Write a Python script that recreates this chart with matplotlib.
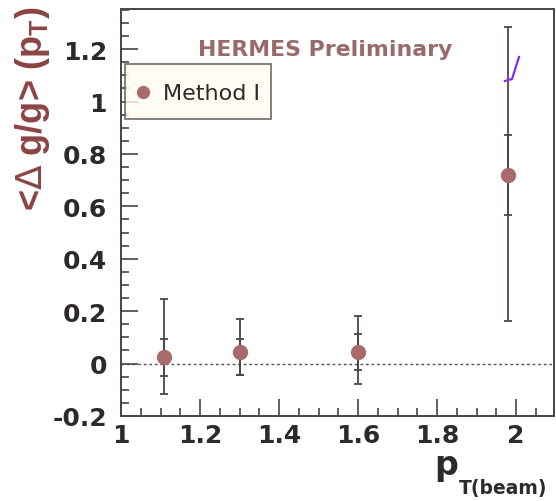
import matplotlib
matplotlib.use("Agg")
from matplotlib import pyplot as plt
from matplotlib.lines import Line2D
from matplotlib.ticker import MultipleLocator
import numpy as np

pt_beam = [1.11, 1.30, 1.60, 1.98]
dg_over_g = [0.025, 0.045, 0.045, 0.72]
stat_lo = [0.073, 0.09, 0.068, 0.154]
stat_hi = [0.068, 0.048, 0.067, 0.151]
tot_lo = [0.14, 0.09, 0.123, 0.559]
tot_hi = [0.22, 0.127, 0.135, 0.566]

x_ticks = [1, 1.2, 1.4, 1.6, 1.8, 2]
y_ticks = [-0.2, 0, 0.2, 0.4, 0.6, 0.8, 1, 1.2]

plt.rcParams['font.family'] = ['DejaVu Sans']

W, H = 556, 502
fig = plt.figure(figsize=(W / 100, H / 100), dpi=100)
ax = fig.add_axes([121 / W, 1 - 417 / H, 433 / W, 407 / H])

frame_col = '#4a4444'
bar_col = '#4d4646'
dot_col = '#a86a6a'
brown = '#8c4444'
txt_col = '#2e2a2a'

ax.axhline(0, color='#555050', lw=1.0, ls=(0, (2, 2)), zorder=1)

# total (outer) and statistical (inner) error bars
ax.errorbar(pt_beam, dg_over_g, yerr=[tot_lo, tot_hi], fmt='none',
            ecolor=bar_col, elinewidth=1.3, capsize=3, capthick=1.3, zorder=2)
ax.errorbar(pt_beam, dg_over_g, yerr=[stat_lo, stat_hi], fmt='none',
            ecolor=bar_col, elinewidth=1.3, capsize=3, capthick=1.3, zorder=2)
ax.plot(pt_beam, dg_over_g, 'o', color=dot_col, ms=10, mec=dot_col,
        zorder=3, label='Method I')

ax.set_xlim(1, 2.096)
ax.set_ylim(-0.2, 1.353)
ax.set_xticks(x_ticks)
ax.set_xticklabels(['1', '1.2', '1.4', '1.6', '1.8', '2'])
ax.set_yticks(y_ticks)
ax.set_yticklabels(['-0.2', '0', '0.2', '0.4', '0.6', '0.8', '1', '1.2'])
ax.xaxis.set_minor_locator(MultipleLocator(0.05))
ax.yaxis.set_minor_locator(MultipleLocator(0.05))
ax.tick_params(which='both', direction='in', color=frame_col, width=1.2,
               top=False, right=False)
ax.tick_params(which='major', length=12, labelsize=18)
ax.tick_params(which='minor', length=6)
ax.tick_params(axis='x', which='major', pad=5)
ax.tick_params(axis='y', which='major', pad=10)
for s in ax.spines.values():
    s.set_color(frame_col)
    s.set_linewidth(1.4)
for lab in ax.get_xticklabels() + ax.get_yticklabels():
    lab.set_color(txt_col)
    lab.set_fontweight('bold')

ax.text(0.472, 0.902, 'HERMES Preliminary', transform=ax.transAxes,
        ha='center', va='center', fontsize=15.8, fontweight='bold',
        color='#9a6a6a')

leg = ax.legend(loc='upper left', bbox_to_anchor=(0.009, 0.865),
                frameon=True, fancybox=False, fontsize=16, handlelength=0.6,
                handletextpad=0.6, borderpad=0.5, handleheight=1.9,
                borderaxespad=0, markerscale=0.85)
leg.get_frame().set_edgecolor(frame_col)
leg.get_frame().set_linewidth(1.2)
leg.get_frame().set_facecolor('#fffcf2')
for t in leg.get_texts():
    t.set_color(txt_col)
# the tall handle box lifts the dot; bring it level with the text
for h in leg.legend_handles:
    h.set_ydata(np.asarray(h.get_ydata()) - 3.6)

fig.text(33 / W, 1 - 109 / H, r'<$\Delta$ g/g> (p$_\mathregular{T}$)',
         rotation=90, ha='center', va='center', fontsize=26,
         fontweight='bold', color=brown, family='Liberation Sans')
fig.text(458 / W, 1 - 475 / H, 'p', ha='right', va='baseline',
         fontsize=24, fontweight='bold', color=txt_col)
fig.text(459 / W, 1 - 494 / H, 'T(beam)', ha='left', va='baseline',
         fontsize=13.5, fontweight='bold', color=txt_col)

# purple hand-drawn tick on the original scan
fig.add_artist(Line2D([505 / W, 512 / W, 519 / W],
                      [1 - 82 / H, 1 - 80 / H, 1 - 58 / H],
                      color='#7b30ee', lw=1.6))

fig.savefig('out.png', dpi=100, facecolor='white')
